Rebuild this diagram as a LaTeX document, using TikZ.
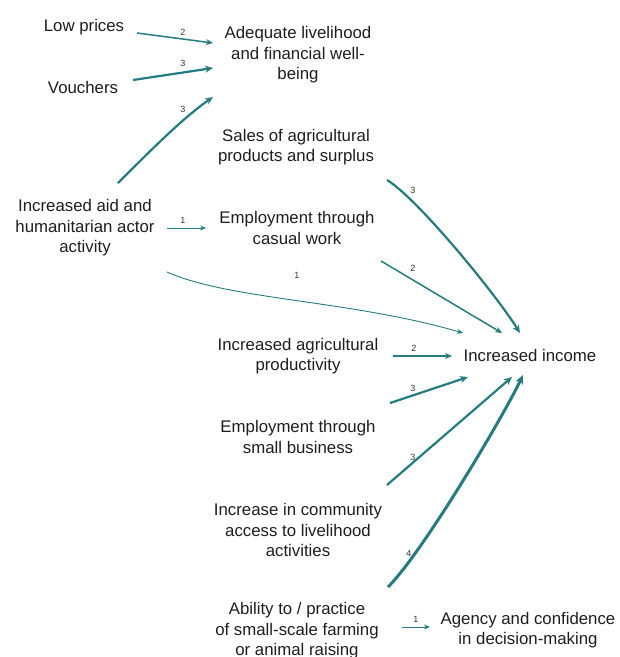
\documentclass[tikz,border=0pt]{standalone}
\usepackage{fontspec}
\setmainfont{Liberation Sans}
\usetikzlibrary{arrows.meta,calc}
\definecolor{edge}{RGB}{35,125,128}
\definecolor{txt}{RGB}{30,30,30}
\begin{document}
\begin{tikzpicture}[x=1pt,y=-1pt,
  box/.style={align=center,inner sep=0pt,font=\fontsize{16.8}{20.5}\selectfont,text=txt},
  lbl/.style={inner sep=0pt,font=\fontsize{9}{10}\selectfont,text=black!80},
  conn/.style={draw=edge},
  w1/.style={conn,line width=0.9pt,-{Stealth[length=6pt,width=5pt]}},
  w2/.style={conn,line width=1.5pt,-{Stealth[length=7pt,width=6pt]}},
  w3/.style={conn,line width=2.2pt,-{Stealth[length=8pt,width=7pt]}},
  w4/.style={conn,line width=3pt,-{Stealth[length=9pt,width=8pt]}}]
\useasboundingbox (0,0) rectangle (620,657);

\node[box] (low) at (84,27) {Low prices};
\node[box] (vouch) at (83,87) {Vouchers};
\node[box] (adeq) at (298,55) {Adequate livelihood\\and financial well-\\being};
\node[box] (sales) at (296,147) {Sales of agricultural\\products and surplus};
\node[box] (aid) at (85,228) {Increased aid and\\humanitarian actor\\activity};
\node[box] (casual) at (297,228) {Employment through\\casual work};
\node[box] (income) at (530,355) {Increased income};
\node[box] (agri) at (298,356) {Increased agricultural\\productivity};
\node[box] (smallb) at (298,437) {Employment through\\small business};
\node[box] (comm) at (298,530) {Increase in community\\access to livelihood\\activities};
\node[box] (farm) at (297,631) {Ability to / practice\\of small-scale farming\\or animal raising};
\node[box] (agency) at (528,630) {Agency and confidence\\in decision-making};

\draw[w2] ($(low)+(53,6)$) -- ($(adeq)+(-85,-12)$);
\draw[w3] ($(vouch)+(50,-7)$) -- ($(adeq)+(-85,13)$);
\draw[w3] ($(aid)+(33,-45)$) .. controls +(35,-35) and +(-30,21) .. ($(adeq)+(-85,42)$);
\draw[w1] ($(aid)+(82,0)$) -- ($(casual)+(-91,0)$);
\draw[w1] ($(aid)+(82,44)$) .. controls +(63,28) and +(-113,-33) .. ($(income)+(-67,-22)$);
\draw[w3] ($(sales)+(91,33)$) .. controls +(30,18) and +(-25,-40) .. ($(income)+(-10,-22)$);
\draw[w2] ($(casual)+(84,33)$) -- ($(income)+(-28,-22)$);
\draw[w2] ($(agri)+(95,0)$) -- ($(income)+(-78,1)$);
\draw[w3] ($(smallb)+(92,-34)$) -- ($(income)+(-62,22)$);
\draw[w3] ($(comm)+(89,-45)$) -- ($(income)+(-18,22)$);
\draw[w4] ($(farm)+(91,-44)$) .. controls +(35,-35) and +(-20,42) .. ($(income)+(-7,20)$);
\draw[w1] ($(farm)+(105,-4)$) -- ($(agency)+(-98,-3)$);

\node[lbl] (l1) at (183,32) {2};
\node[lbl] (l2) at (183,63) {3};
\node[lbl] (l3) at (183,109) {3};
\node[lbl] (l4) at (183,220) {1};
\node[lbl] (l5) at (297,275) {1};
\node[lbl] (l6) at (413,190) {3};
\node[lbl] (l7) at (413,268) {2};
\node[lbl] (l8) at (414,348) {2};
\node[lbl] (l9) at (413,388) {3};
\node[lbl] (l10) at (413,457) {3};
\node[lbl] (l11) at (409,553) {4};
\node[lbl] (l12) at (416,619) {1};
\end{tikzpicture}
\end{document}
